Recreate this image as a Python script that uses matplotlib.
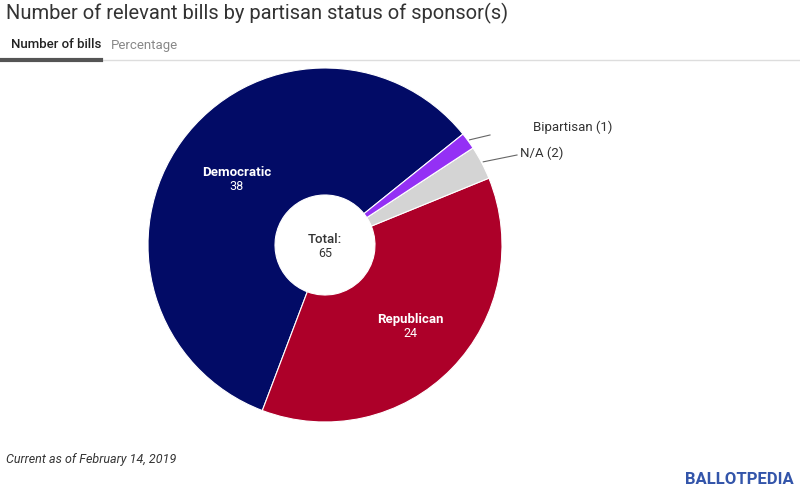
import matplotlib
matplotlib.use("Agg")
import matplotlib.pyplot as plt
import numpy as np

labels = ["Democratic", "Republican", "N/A", "Bipartisan"]
values = [38, 24, 2, 1]
colors = ["#020b66", "#ad0029", "#d4d4d4", "#9430f5"]
total = sum(values)

W, H = 800, 500
fig = plt.figure(figsize=(8, 5), dpi=100)
fig.patch.set_facecolor("white")

def fx(x): return x / W
def fy(y): return 1 - y / H

fig.text(fx(6), fy(13), "Number of relevant bills by partisan status of sponsor(s)",
         fontsize=14.5, color="#333333", va="center", family="Roboto")
fig.text(fx(11), fy(45), "Number of bills", fontsize=9.5, color="#222222",
         va="center", family="Roboto", weight="medium")
fig.text(fx(111), fy(45), "Percentage", fontsize=9.5, color="#888888",
         va="center", family="Roboto")
fig.add_artist(plt.Line2D([0, 1], [fy(60), fy(60)], color="#dddddd", lw=1))
fig.add_artist(plt.Line2D([0, fx(101)], [fy(60), fy(60)], color="#555555", lw=3))
fig.text(fx(6), fy(460), "Current as of February 14, 2019", fontsize=9,
         style="italic", color="#333333", va="center", family="Roboto")
fig.text(fx(794), fy(480), "BALLOTPEDIA", fontsize=12, color="#3355aa",
         ha="right", va="center", family="Roboto", weight="bold")

cx, cy, r = 325, 245, 177
ax = fig.add_axes([fx(cx - r), fy(cy + r), 2 * r / W, 2 * r / H])
ax.pie(values, colors=colors, startangle=38.8, counterclock=True,
       wedgeprops=dict(width=1 - 50 / 177, edgecolor="white", linewidth=0.8))
ax.set_xlim(-1, 1); ax.set_ylim(-1, 1)
ax.set_aspect("auto")
ax.axis("off")

ax.text(-0.50, 0.41, "Democratic", color="white", ha="center", va="center",
        fontsize=9.5, weight="bold", family="Roboto")
ax.text(-0.50, 0.33, str(values[0]), color="white", ha="center", va="center",
        fontsize=9, family="Roboto")
ax.text(0.48, -0.42, "Republican", color="white", ha="center", va="center",
        fontsize=9.5, weight="bold", family="Roboto")
ax.text(0.48, -0.50, str(values[1]), color="white", ha="center", va="center",
        fontsize=9, family="Roboto")
ax.text(0, 0.03, "Total:", color="#333333", ha="center", va="center",
        fontsize=9.5, weight="medium", family="Roboto")
ax.text(0, -0.05, str(total), color="#333333", ha="center", va="center",
        fontsize=9, family="Roboto")

# leader lines for small slices
start = 38.8
angles = np.cumsum([0] + values) / total * 360 + start
mids = {labels[i]: np.deg2rad((angles[i] + angles[i + 1]) / 2) for i in range(4)}
for name, end_px, txt_px in [("Bipartisan", (490, 135), (533, 127)),
                             ("N/A", (517, 155), (520, 153))]:
    a = mids[name]
    x0, y0 = np.cos(a) * 1.01, np.sin(a) * 1.01
    x1, y1 = (end_px[0] - cx) / r, (cy - end_px[1]) / r
    ax.plot([x0, x1], [y0, y1], color="#666666", lw=0.8, clip_on=False)
    v = values[labels.index(name)]
    fig.text(fx(txt_px[0]), fy(txt_px[1]), f"{name} ({v})", fontsize=9.5,
             color="#333333", va="center", family="Roboto")

fig.savefig("out.png", dpi=100)
